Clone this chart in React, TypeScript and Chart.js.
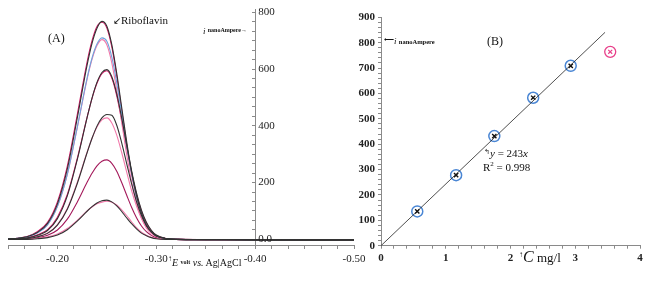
import React, { useEffect, useRef } from "react";
import { Chart, registerables } from "chart.js";
Chart.register(...registerables);

// ---------- Panel A: voltammograms ----------
const E_VOLT = [-0.15, -0.16, -0.17, -0.18, -0.19, -0.20, -0.21, -0.22, -0.23, -0.235, -0.24, -0.245, -0.25, -0.255, -0.26, -0.265, -0.27, -0.275, -0.28, -0.285, -0.29, -0.295, -0.30, -0.31, -0.32, -0.35, -0.40, -0.45, -0.50];

const CURVE_BLACK_770 = [2, 4, 10, 25, 56, 125, 248, 426, 614, 691, 744, 768, 751, 686, 585, 465, 345, 238, 154, 92, 50, 26, 12, 3, 0, -1, -2, -3, -3];
const CURVE_MAGENTA_765 = [2, 4, 11, 28, 60, 132, 258, 438, 625, 700, 750, 765, 745, 678, 575, 455, 336, 232, 150, 90, 49, 25, 12, 3, 0, -1, -2, -2, -2];
const CURVE_BLUE_712 = [2, 4, 9, 23, 51, 116, 229, 394, 568, 639, 688, 710, 698, 642, 552, 443, 330, 232, 150, 91, 50, 26, 12, 3, 0, -1, -2, -2, -2];
const CURVE_PINK_705 = [2, 4, 10, 24, 52, 116, 229, 392, 564, 634, 683, 704, 686, 622, 525, 412, 300, 203, 128, 75, 40, 20, 9, 2, 0, -1, -2, -2, -2];
const CURVE_BLACK_600 = [0, 2, 5, 14, 31, 73, 153, 280, 429, 498, 553, 588, 598, 573, 513, 428, 333, 242, 164, 103, 60, 32, 15, 3, 0, -1, -2, -2, -2];
const CURVE_MAGENTA_595 = [0, 2, 6, 16, 34, 78, 158, 284, 430, 497, 550, 584, 594, 568, 506, 420, 325, 235, 158, 99, 57, 30, 14, 3, 0, -1, -2, -2, -2];
const CURVE_BLACK_440 = [0, 1, 3, 9, 21, 50, 106, 196, 305, 356, 399, 428, 440, 437, 402, 340, 268, 196, 133, 84, 48, 26, 12, 3, 0, -1, -2, -2, -2];
const CURVE_PINK_430 = [0, 1, 3, 10, 22, 52, 109, 200, 307, 356, 396, 421, 428, 410, 367, 306, 238, 172, 117, 73, 42, 23, 11, 2, 0, -1, -2, -2, -2];
const CURVE_MAGENTA_282 = [0, 0, 1, 6, 14, 33, 71, 131, 201, 233, 259, 275, 280, 268, 240, 200, 156, 113, 76, 47, 27, 14, 6, 1, 0, -1, -2, -2, -2];
const CURVE_BLACK_140 = [0, 0, 0, 2, 6, 15, 34, 64, 99, 115, 128, 136, 138, 132, 118, 98, 76, 55, 37, 22, 13, 6, 2, 0, 0, -1, -2, -2, -2];
const CURVE_PINK_135 = [0, 1, 2, 4, 9, 19, 38, 67, 100, 114, 125, 131, 134, 131, 121, 104, 84, 62, 41, 25, 14, 7, 3, 0, 0, -1, -2, -2, -2];

const A_X_MIN = -0.5;
const A_X_MAX = -0.15;
const A_Y_MIN = -20;
const A_Y_MAX = 810;
const A_Y_AXIS_AT = -0.4;
const A_Y_LABELS = [0, 200, 400, 600, 800];

// ---------- Panel B: calibration ----------
const CONC = [0.56, 1.16, 1.75, 2.35, 2.93];
const CURRENT = [135, 278, 432, 583, 709];
const OUTLIER_CONC = [3.54];
const OUTLIER_CURRENT = [764];
const SLOPE = 243;
const R2 = 0.998;
const FIT_END = 3.46;
const B_X_MAX = 4;
const B_Y_MAX = 900;

const BLACK = "#333333";
const MAGENTA = "#d81b6a";
const PINK = "#f27aab";
const BLUE = "#6fa3dc";
const DARK_MAGENTA = "#a3185a";
const AXIS = "#8a8a8a";
const SERIF = '"Liberation Serif", "Times New Roman", serif';

const pts = (ys: number[]) => E_VOLT.map((x, i) => ({ x, y: ys[i] }));

const yLabelsPlugin = {
  id: "yLabelsA",
  afterDraw(chart: any) {
    const ys = chart.scales.y;
    const xs = chart.scales.x;
    const ctx = chart.ctx;
    const x0 = xs.getPixelForValue(A_Y_AXIS_AT) + 3;
    ctx.save();
    ctx.font = `11px ${SERIF}`;
    ctx.fillStyle = "#222";
    ctx.textAlign = "left";
    ctx.textBaseline = "middle";
    A_Y_LABELS.forEach((v) => ctx.fillText(v === 0 ? "0.0" : String(v), x0, ys.getPixelForValue(v)));
    ctx.restore();
  },
};

function ChartA() {
  const ref = useRef<HTMLCanvasElement>(null);
  useEffect(() => {
    const line = (data: number[], color: string) => ({
      data: pts(data),
      borderColor: color,
      borderWidth: 1.1,
      pointRadius: 0,
      fill: false,
      cubicInterpolationMode: "monotone" as const,
    });
    const xTicks = Array.from({ length: 22 }, (_, k) => A_X_MIN + k / 60);
    const yTicks = Array.from({ length: 25 }, (_, k) => (k * 200) / 6);
    const chart = new Chart(ref.current!, {
      type: "line",
      data: {
        datasets: [
          line(CURVE_BLACK_770, BLACK),
          line(CURVE_BLACK_600, BLACK),
          line(CURVE_BLACK_440, BLACK),
          line(CURVE_BLACK_140, BLACK),
          line(CURVE_BLUE_712, BLUE),
          line(CURVE_PINK_705, PINK),
          line(CURVE_PINK_430, PINK),
          line(CURVE_PINK_135, PINK),
          line(CURVE_MAGENTA_595, MAGENTA),
          line(CURVE_MAGENTA_282, DARK_MAGENTA),
          line(CURVE_MAGENTA_765, MAGENTA),
        ],
      },
      options: {
        animation: false,
        responsive: false,
        maintainAspectRatio: false,
        layout: { padding: { left: 8, right: 296, top: 9.5, bottom: 0 } },
        plugins: { legend: { display: false }, tooltip: { enabled: false } },
        scales: {
          x: {
            type: "linear",
            reverse: true,
            min: A_X_MIN,
            max: A_X_MAX,
            position: "bottom",
            afterBuildTicks: (s: any) => {
              s.ticks = xTicks.map((value) => ({ value }));
            },
            afterFit: (s: any) => {
              s.height = 38;
              s.paddingLeft = 0;
              s.paddingRight = 0;
            },
            border: { display: true, color: AXIS, width: 1 },
            grid: { drawOnChartArea: false, drawTicks: true, tickLength: 4, tickColor: AXIS },
            ticks: {
              autoSkip: false,
              maxRotation: 0,
              minRotation: 0,
              padding: 4,
              color: "#222",
              font: { family: SERIF, size: 11 },
              callback: (value: any) => {
                const v = Number(value);
                const r = Math.round(v * 10) / 10;
                return Math.abs(v - r) < 1e-6 && v <= -0.2 + 1e-9 ? v.toFixed(2) : "";
              },
            },
          },
          y: {
            type: "linear",
            axis: "y",
            min: A_Y_MIN,
            max: A_Y_MAX,
            position: { x: A_Y_AXIS_AT } as any,
            afterBuildTicks: (s: any) => {
              s.ticks = yTicks.map((value) => ({ value }));
            },
            afterFit: (s: any) => {
              s.width = 0;
              s.paddingTop = 0;
              s.paddingBottom = 0;
            },
            border: { display: true, color: AXIS, width: 1 },
            grid: { drawOnChartArea: false, drawTicks: true, tickLength: 3, tickColor: AXIS },
            ticks: { display: false },
          },
        },
      },
      plugins: [yLabelsPlugin],
    } as any);
    return () => chart.destroy();
  }, []);
  return <canvas ref={ref} width={650} height={283} style={{ position: "absolute", left: 0, top: 0 }} />;
}

function ChartB() {
  const ref = useRef<HTMLCanvasElement>(null);
  useEffect(() => {
    const xTicks = Array.from({ length: 21 }, (_, k) => k * 0.2);
    const yTicks = Array.from({ length: 46 }, (_, k) => k * 20);
    const chart = new Chart(ref.current!, {
      type: "scatter",
      data: {
        datasets: [
          {
            data: [
              { x: 0, y: 0 },
              { x: FIT_END, y: SLOPE * FIT_END },
            ],
            showLine: true,
            borderColor: "#222",
            borderWidth: 0.8,
            pointRadius: 0,
          },
          {
            data: CONC.map((x, i) => ({ x, y: CURRENT[i] })),
            pointStyle: "circle",
            pointRadius: 5.5,
            borderColor: "#4a86d4",
            borderWidth: 1.5,
            backgroundColor: "rgba(0,0,0,0)",
          },
          {
            data: CONC.map((x, i) => ({ x, y: CURRENT[i] })),
            pointStyle: "crossRot",
            pointRadius: 3,
            borderColor: "#111",
            borderWidth: 1.4,
          },
          {
            data: OUTLIER_CONC.map((x, i) => ({ x, y: OUTLIER_CURRENT[i] })),
            pointStyle: "circle",
            pointRadius: 5.5,
            borderColor: "#e8408a",
            borderWidth: 1.3,
            backgroundColor: "rgba(0,0,0,0)",
          },
          {
            data: OUTLIER_CONC.map((x, i) => ({ x, y: OUTLIER_CURRENT[i] })),
            pointStyle: "crossRot",
            pointRadius: 2.8,
            borderColor: "#e8408a",
            borderWidth: 1.2,
          },
        ],
      },
      options: {
        animation: false,
        responsive: false,
        maintainAspectRatio: false,
        layout: { padding: { left: 351, right: 10, top: 17.3, bottom: 0 } },
        plugins: { legend: { display: false }, tooltip: { enabled: false } },
        scales: {
          x: {
            type: "linear",
            min: 0,
            max: B_X_MAX,
            position: "bottom",
            afterBuildTicks: (s: any) => {
              s.ticks = xTicks.map((value) => ({ value }));
            },
            afterFit: (s: any) => {
              s.height = 37.3;
              s.paddingLeft = 0;
              s.paddingRight = 0;
            },
            border: { display: true, color: AXIS, width: 1 },
            grid: { drawOnChartArea: false, drawTicks: true, tickLength: 3, tickColor: AXIS },
            ticks: {
              autoSkip: false,
              maxRotation: 0,
              minRotation: 0,
              padding: 3,
              color: "#222",
              font: { family: SERIF, size: 11, weight: "bold" },
              callback: (value: any) => {
                const v = Number(value);
                return Math.abs(v - Math.round(v)) < 1e-6 ? String(Math.round(v)) : "";
              },
            },
          },
          y: {
            type: "linear",
            min: 0,
            max: B_Y_MAX,
            position: "left",
            afterBuildTicks: (s: any) => {
              s.ticks = yTicks.map((value) => ({ value }));
            },
            afterFit: (s: any) => {
              s.width = 30;
              s.paddingTop = 0;
              s.paddingBottom = 0;
            },
            border: { display: true, color: AXIS, width: 1 },
            grid: { drawOnChartArea: false, drawTicks: true, tickLength: 3, tickColor: AXIS },
            ticks: {
              autoSkip: false,
              padding: 3,
              color: "#222",
              font: { family: SERIF, size: 11, weight: "bold" },
              callback: (value: any) => {
                const v = Number(value);
                return Math.abs(v / 100 - Math.round(v / 100)) < 1e-6 ? String(Math.round(v)) : "";
              },
            },
          },
        },
      },
    } as any);
    return () => chart.destroy();
  }, []);
  return <canvas ref={ref} width={650} height={283} style={{ position: "absolute", left: 0, top: 0 }} />;
}

const txt = (left: number, top: number, size: number, extra: React.CSSProperties = {}): React.CSSProperties => ({
  position: "absolute",
  left,
  top,
  fontSize: size,
  lineHeight: 1,
  whiteSpace: "nowrap",
  fontFamily: SERIF,
  color: "#111",
  ...extra,
});

export default function App() {
  useEffect(() => {
    document.body.style.margin = "0";
  }, []);
  const small: React.CSSProperties = { fontSize: 6, fontWeight: "bold", position: "relative", top: -2 };
  return (
    <div style={{ position: "fixed", left: 0, top: 0, width: 650, height: 283, background: "#fff" }}>
      <ChartA />
      <ChartB />
      <div style={txt(48, 32, 12)}>(A)</div>
      <div style={txt(113, 14.5, 11)}>
        <span style={{ fontSize: 10 }}>↙</span>Riboflavin
      </div>
      <div style={txt(203, 27, 9)}>
        <i>i</i> <span style={small}>nanoAmpere→</span>
      </div>
      <div style={txt(168, 258, 10)}>
        <span style={{ fontSize: 8, position: "relative", top: -5 }}>↑</span>
        <i>E</i> <span style={small}>volt</span> <i>vs.</i> Ag|AgCl
      </div>
      <div style={txt(487, 35, 12)}>(B)</div>
      <div style={txt(384, 37, 9)}>
        <span style={{ fontSize: 7, position: "relative", top: -2 }}>⟵</span>
        <i>i</i> <span style={{ ...small, fontSize: 6.5, top: 0 }}>nanoAmpere</span>
      </div>
      <div style={txt(484, 147.5, 11)}>
        <span style={{ fontSize: 7, position: "relative", top: -3 }}>↰</span>
        <i>y</i> = {SLOPE}
        <i>x</i>
      </div>
      <div style={txt(483, 161.5, 11)}>
        R<sup style={{ fontSize: 7, lineHeight: 0 }}>2</sup> = {R2}
      </div>
      <div style={txt(519, 249, 13)}>
        <span style={{ fontSize: 8, position: "relative", top: -5 }}>↑</span>
        <i style={{ fontSize: 16 }}>C</i> mg/l
      </div>
    </div>
  );
}
